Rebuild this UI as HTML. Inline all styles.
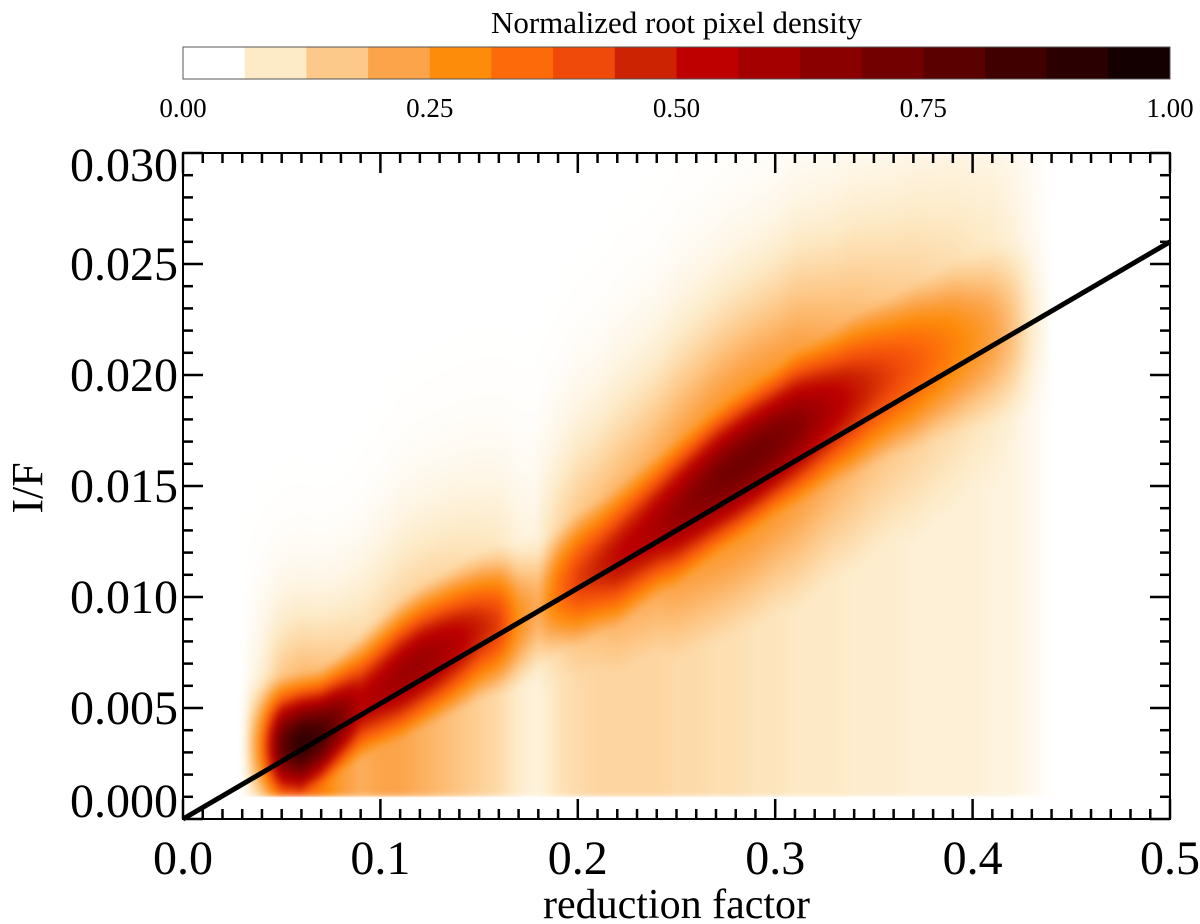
<!DOCTYPE html>
<html><head><meta charset="utf-8">
<style>
html,body{margin:0;padding:0;background:#fff;}
#wrap{position:relative;width:1200px;height:924px;overflow:hidden;font-family:"Liberation Serif",serif;}
#heat{position:absolute;left:0;top:0;}
#svg{position:absolute;left:0;top:0;}
</style></head>
<body>
<div id="wrap">
<canvas id="heat" width="1200" height="924"></canvas>
<svg id="svg" width="1200" height="924"></svg>
</div>
<script>
// ---- data ----
const colXs = [0.03,0.04,0.05,0.06,0.07,0.08,0.09,0.10,0.11,0.12,0.13,0.14,0.15,0.16,0.17,0.18,0.19,0.20,0.21,0.22,0.23,0.24,0.25,0.26,0.27,0.28,0.29,0.30,0.31,0.32,0.33,0.34,0.35,0.36,0.37,0.38,0.39,0.40,0.41,0.42,0.43,0.44];
const ridgeY = [0.0033,0.0033,0.0033,0.0034,0.0038,0.0045,0.0052,0.0058,0.0064,0.0070,0.0075,0.0080,0.0085,0.0088,0.0090,0.0095,0.0103,0.0108,0.0113,0.0118,0.0125,0.0132,0.0138,0.0145,0.0152,0.0158,0.0164,0.0170,0.0176,0.0181,0.0186,0.0191,0.0196,0.0200,0.0204,0.0208,0.0212,0.0215,0.0218,0.0220,0.0222,0.0222];
const peak = [0,0.3,0.78,0.92,0.85,0.7,0.55,0.58,0.62,0.63,0.6,0.55,0.48,0.42,0.25,0.18,0.32,0.42,0.47,0.52,0.55,0.59,0.64,0.68,0.72,0.74,0.74,0.72,0.68,0.62,0.56,0.5,0.45,0.41,0.37,0.33,0.29,0.25,0.21,0.15,0.06,0];
const spread = [0.0017,0.0017,0.0017,0.0017,0.0016,0.0016,0.0017,0.0018,0.0019,0.0019,0.0019,0.0019,0.0019,0.0019,0.0019,0.0019,0.0019,0.0020,0.0020,0.0021,0.0021,0.0021,0.0022,0.0022,0.0022,0.0022,0.0022,0.0022,0.0023,0.0023,0.0023,0.0024,0.0024,0.0024,0.0025,0.0025,0.0026,0.0026,0.0027,0.0027,0.0027,0.0027];
const haze = [0,0.12,0.3,0.35,0.3,0.22,0.18,0.2,0.2,0.18,0.16,0.14,0.12,0.1,0.06,0.04,0.08,0.1,0.11,0.11,0.11,0.11,0.1,0.1,0.09,0.09,0.08,0.08,0.07,0.07,0.07,0.06,0.06,0.06,0.05,0.05,0.05,0.05,0.04,0.04,0.02,0];
const fitIntercept = 0.0;
const fitSlope = 0.052;
const cbColors = ["#ffffff","#fdebc8","#fdc98a","#fca44a","#fd8c0a","#fd6a0a","#f04a0a","#cc2402","#be0000","#a50000","#8a0000","#730000","#5a0000","#400000","#2a0000","#150000"];
const cbTicks = ["0.00","0.25","0.50","0.75","1.00"];
const xTicks = ["0.0","0.1","0.2","0.3","0.4","0.5"];
const yTicks = ["0.000","0.005","0.010","0.015","0.020","0.025","0.030"];

// ---- axes ----
const L=183,R=1170,T=153,B=819;
const X0=0,X1=0.5,Y0=0,Y1=0.030;
const sx=v=>L+(v-X0)/(X1-X0)*(R-L);
const sy=v=>B-(v-Y0)/(Y1-Y0)*(B-T);
const NS="http://www.w3.org/2000/svg";
const svg=document.getElementById('svg');
function mk(tag,attrs,parent){const e=document.createElementNS(NS,tag);for(const k in attrs)e.setAttribute(k,attrs[k]);(parent||svg).appendChild(e);return e;}

function hex(c){return [parseInt(c.slice(1,3),16),parseInt(c.slice(3,5),16),parseInt(c.slice(5,7),16)];}
const cmap=cbColors.map(hex);
function col(v){v=Math.max(0,Math.min(1,v));const p=v*(cmap.length-1);const i=Math.min(cmap.length-2,Math.floor(p));const f=p-i;return cmap[i].map((c,k)=>c+(cmap[i+1][k]-c)*f);}

// heatmap
const W=R-L,H=B-T;
const img=new ImageData(W,H);
function interp(arr,x){if(x<=colXs[0]||x>=colXs[colXs.length-1])return null;let i=0;while(colXs[i+1]<x)i++;const f=(x-colXs[i])/(colXs[i+1]-colXs[i]);return arr[i]+(arr[i+1]-arr[i])*f;}
const yCut=0.001;
for(let px=0;px<W;px++){
  const x=X0+(px+0.5)/W*(X1-X0);
  const pk=interp(peak,x);
  for(let py=0;py<H;py++){
    const o=(py*W+px)*4;
    img.data[o]=255;img.data[o+1]=255;img.data[o+2]=255;img.data[o+3]=255;
    if(pk===null)continue;
    const c=interp(ridgeY,x),s=interp(spread,x),h=interp(haze,x);
    const y=Y1-(py+0.5)/H*(Y1-Y0);
    if(y<yCut)continue;
    const dy=y-c;
    const wide=x<0.18?0.25:0.4;
    let d=pk*Math.exp(-0.5*(dy/s)**2);
    let d2=wide*pk*Math.exp(-0.5*(dy/(2.2*s))**2);
    let hz=y<c?h:h*Math.exp(-0.5*(dy/(s*1.5))**2);
    const v=Math.max(d,d2,hz);
    const rgb=col(v);
    img.data[o]=rgb[0];img.data[o+1]=rgb[1];img.data[o+2]=rgb[2];
  }
}
const t2=document.createElement('canvas');t2.width=W;t2.height=H;t2.getContext('2d').putImageData(img,0,0);
const ctx=document.getElementById('heat').getContext('2d');
ctx.fillStyle='#fff';ctx.fillRect(0,0,1200,924);
ctx.save();ctx.beginPath();ctx.rect(L,T,W,sy(yCut)-T);ctx.clip();
ctx.filter='blur(3px)';
ctx.drawImage(t2,L,T);
ctx.restore();

// fit line
const fit=mk('line',{x1:sx(0),y1:sy(fitIntercept),x2:sx(0.5),y2:sy(fitIntercept+fitSlope*0.5),stroke:'#000','stroke-width':5});



const fr=mk('rect',{x:L,y:T,width:R-L,height:B-T,fill:'none',stroke:'#000','stroke-width':2});



const tg=mk('g',{stroke:'#000','stroke-width':2.5});


for(let i=0;i<=50;i++){const v=i*0.01;const len=i%10===0?20:10;const x=sx(v);
  mk('line',{x1:x,y1:B,x2:x,y2:B-len},tg);mk('line',{x1:x,y1:T,x2:x,y2:T+len},tg);}
for(let i=0;i<=30;i++){const v=i*0.001;const len=i%5===0?20:10;const y=sy(v);
  mk('line',{x1:L,y1:y,x2:L+len,y2:y},tg);mk('line',{x1:R,y1:y,x2:R-len,y2:y},tg);}

xTicks.forEach((t,i)=>{const e=mk('text',{x:sx(parseFloat(t)),y:874,'text-anchor':'middle','font-size':48,'font-family':'Liberation Serif, serif'});e.textContent=t;
  
  });
yTicks.forEach((t,i)=>{const v=parseFloat(t);let y=sy(v)+16;if(i===0)y=sy(v)-2;if(i===yTicks.length-1)y=sy(v)+28;
  const e=mk('text',{x:178,y:y,'text-anchor':'end','font-size':48,'font-family':'Liberation Serif, serif'});e.textContent=t;
  
  });
const xt=mk('text',{x:(L+R)/2,y:918,'text-anchor':'middle','font-size':42,'font-family':'Liberation Serif, serif'});xt.textContent='reduction factor';


const yt=mk('text',{x:0,y:0,transform:'translate(42,488) rotate(-90)','text-anchor':'middle','font-size':44,'font-family':'Liberation Serif, serif'});yt.textContent='I/F';



const cbL=183,cbR=1170,cbT=47,cbB=79;
const cbg=mk('g',{});


const w=(cbR-cbL)/cbColors.length;
cbColors.forEach((c,i)=>{const r=mk('rect',{x:cbL+i*w,y:cbT,width:w+0.5,height:cbB-cbT,fill:c},cbg);
  
  });
mk('rect',{x:cbL,y:cbT,width:cbR-cbL,height:cbB-cbT,fill:'none',stroke:'#555','stroke-width':1},cbg);
cbTicks.forEach(t=>{const v=parseFloat(t);const e=mk('text',{x:cbL+v*(cbR-cbL),y:117,'text-anchor':'middle','font-size':27,'font-family':'Liberation Serif, serif'});e.textContent=t;
  
  });
const ct=mk('text',{x:(cbL+cbR)/2,y:33,'text-anchor':'middle','font-size':31,'font-family':'Liberation Serif, serif'});ct.textContent='Normalized root pixel density';


</script>
</body></html>
